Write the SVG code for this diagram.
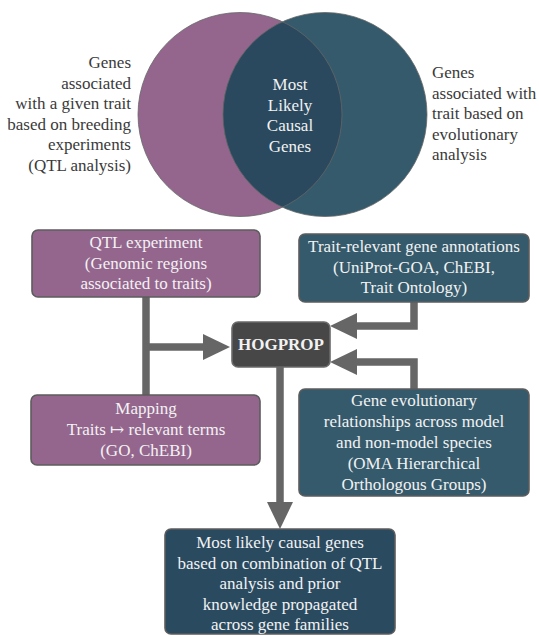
<svg xmlns="http://www.w3.org/2000/svg" width="539" height="635" viewBox="0 0 539 635" font-family="'Liberation Serif', 'Times New Roman', 'DejaVu Serif', serif" font-size="17">
<style>
.dark{fill:#3a3a3a}
.light{fill:#f2f2f2;text-anchor:middle}
.box{stroke:#5c5c5c;stroke-width:1.6}
.purple{fill:#94668E}
.teal{fill:#355A6C}
.deep{fill:#2A4A60}
.conn{fill:none;stroke:#666;stroke-width:7.5}
</style>
<defs>
<marker id="ah" viewBox="0 0 27 26" refX="0" refY="13" markerWidth="27" markerHeight="26" markerUnits="userSpaceOnUse" orient="auto">
<path d="M0,0 L27,13 L0,26 z" fill="#666"/>
</marker>
<clipPath id="clipL"><circle cx="240" cy="114.5" r="102"/></clipPath>
</defs>

<g id="venn">
<circle cx="240" cy="114.5" r="102" class="purple"/>
<circle cx="325" cy="114.5" r="102" class="teal"/>
<circle cx="325" cy="114.5" r="102" fill="#2A495E" clip-path="url(#clipL)"/>
<circle cx="240" cy="114.5" r="102" fill="none" stroke="#666" stroke-width="0.8"/>
<circle cx="325" cy="114.5" r="102" fill="none" stroke="#666" stroke-width="0.8"/>
<text class="dark" text-anchor="end"><tspan x="131" y="68">Genes</tspan><tspan x="131" y="88.5">associated</tspan><tspan x="131" y="109">with a given trait</tspan><tspan x="131" y="129.5">based on breeding</tspan><tspan x="131" y="150">experiments</tspan><tspan x="131" y="170.5">(QTL analysis)</tspan></text>
<text class="light"><tspan x="290" y="90">Most</tspan><tspan x="290" y="110.5">Likely</tspan><tspan x="290" y="131">Causal</tspan><tspan x="290" y="151.5">Genes</tspan></text>
<text class="dark"><tspan x="432" y="78">Genes</tspan><tspan x="432" y="98.5">associated with</tspan><tspan x="432" y="119">trait based on</tspan><tspan x="432" y="139.5">evolutionary</tspan><tspan x="432" y="160">analysis</tspan></text>
</g>

<g id="connectors">
<path class="conn" d="M146,297 V395"/>
<path class="conn" d="M146,347 H203" marker-end="url(#ah)"/>
<path class="conn" d="M414,302 V326 H357" marker-end="url(#ah)"/>
<path class="conn" d="M414,389 V362 H357" marker-end="url(#ah)"/>
<path class="conn" d="M280,367 V502" marker-end="url(#ah)"/>
</g>

<g id="qtl">
<rect x="32" y="230" width="228" height="67" rx="6" class="box purple"/>
<text class="light"><tspan x="146" y="248">QTL experiment</tspan><tspan x="146" y="268.5">(Genomic regions</tspan><tspan x="146" y="289">associated to traits)</tspan></text>
</g>

<g id="mapping">
<rect x="31" y="395" width="229" height="70" rx="6" class="box purple"/>
<text class="light"><tspan x="146" y="414">Mapping</tspan><tspan x="146" y="435">Traits ↦ relevant terms</tspan><tspan x="146" y="456">(GO, ChEBI)</tspan></text>
</g>

<g id="annotations">
<rect x="299" y="234" width="230" height="68" rx="6" class="box teal"/>
<text class="light"><tspan x="414" y="252">Trait-relevant gene annotations</tspan><tspan x="414" y="272.5">(UniProt-GOA, ChEBI,</tspan><tspan x="414" y="293">Trait Ontology)</tspan></text>
</g>

<g id="hogprop">
<rect x="232" y="322" width="98" height="45" rx="6" fill="#474747" stroke="#6a6a6a" stroke-width="1.6"/>
<text x="281" y="350" class="light" font-weight="bold">HOGPROP</text>
</g>

<g id="evolution">
<rect x="299" y="389" width="230" height="107" rx="6" class="box teal"/>
<text class="light"><tspan x="414" y="406">Gene evolutionary</tspan><tspan x="414" y="427">relationships across model</tspan><tspan x="414" y="448">and non-model species</tspan><tspan x="414" y="469">(OMA Hierarchical</tspan><tspan x="414" y="490">Orthologous Groups)</tspan></text>
</g>

<g id="result">
<rect x="165" y="529" width="230" height="105" rx="6" class="box deep"/>
<text class="light"><tspan x="280" y="548">Most likely causal genes</tspan><tspan x="280" y="568.5">based on combination of QTL</tspan><tspan x="280" y="589">analysis and prior</tspan><tspan x="280" y="609.5">knowledge propagated</tspan><tspan x="280" y="630">across gene families</tspan></text>
</g>
</svg>
